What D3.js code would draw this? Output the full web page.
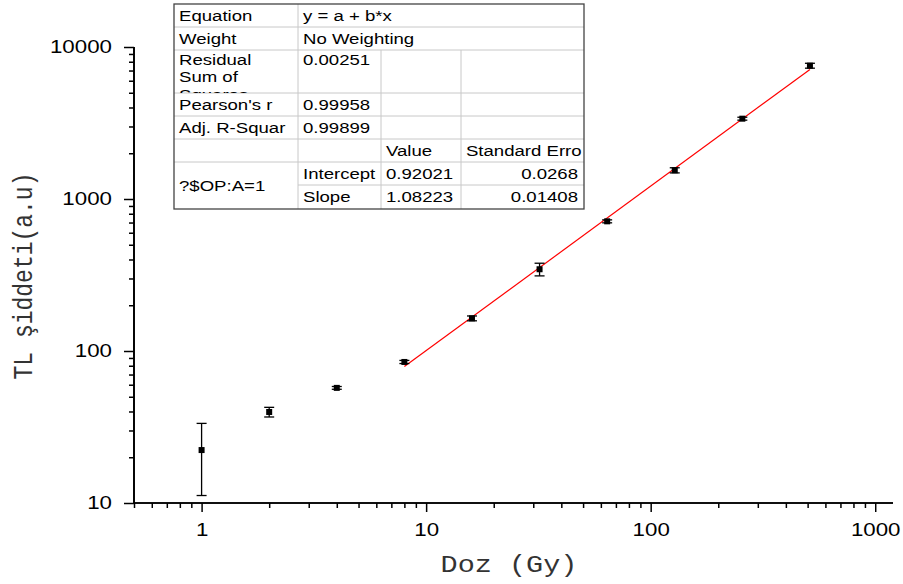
<!DOCTYPE html>
<html>
<head>
<meta charset="utf-8">
<script src="https://cdn.jsdelivr.net/npm/d3@7"></script>
<style>
  body { margin: 0; background: #fff; }
  svg { display: block; }
</style>
</head>
<body>
<div id="chart"></div>
<script>
// measured dose / TL intensity with error bars
const doses = [1, 2, 4, 8, 16, 32, 64, 128, 256, 512];
const tlValues = [22.3, 39.7, 57.2, 84.7, 164, 345, 713, 1545, 3376, 7535];
const tlErrors = [11.1, 2.9, 1.2, 2, 6, 33, 16, 60, 75, 280];

// linear fit on log-log data (from table)
const fitIntercept = 0.92021;
const fitSlope = 1.08223;
const fitRange = [8, 512];

const xMajor = [1, 10, 100, 1000];
const yMajor = [10, 100, 1000, 10000];

const tableRows = [
    ["Equation", "y = a + b*x"],
    ["Weight", "No Weighting"],
    ["Residual Sum of Squares", "0.00251", "", ""],
    ["Pearson's r", "0.99958", "", ""],
    ["Adj. R-Squar", "0.99899", "", ""],
    ["", "", "Value", "Standard Erro"],
    ["?$OP:A=1", "Intercept", "0.92021", "0.0268"],
    ["", "Slope", "1.08223", "0.01408"]
];

const W = 903, H = 584;
const SX = 1.24; // the original picture is stretched sideways
const sansFont = "'Liberation Sans', Arial, sans-serif";
const monoFont = "'Liberation Mono', 'Courier New', monospace";

const svg = d3.select("#chart").append("svg")
    .attr("width", W).attr("height", H);

// plot area
const pLeft = 134, pRight = 893, pTop = 47, pBottom = 503;

const x = d3.scaleLog().domain([0.5, 1200]).range([pLeft, pRight]);
const y = d3.scaleLog().domain([10, 10000]).range([pBottom, pTop]);

function minorTicks(lo, hi) {
    const out = [];
    for (let p = Math.floor(Math.log10(lo)); p <= Math.ceil(Math.log10(hi)); p++) {
        for (let m = 2; m <= 9; m++) {
            const v = m * Math.pow(10, p);
            if (v >= lo && v <= hi) out.push(v);
        }
    }
    return out;
}
const xMinor = minorTicks(0.5, 1200);
const yMinor = minorTicks(10, 10000);

// x axis
const gx = svg.append("g").attr("transform", `translate(0,${pBottom})`);
gx.call(d3.axisBottom(x).tickValues(xMinor).tickSize(5).tickFormat(""));
gx.append("g").call(d3.axisBottom(x).tickValues(xMajor).tickSize(9).tickPadding(11)
    .tickFormat(d3.format("d")));

// y axis
const gy = svg.append("g").attr("transform", `translate(${pLeft},0)`);
gy.call(d3.axisLeft(y).tickValues(yMinor).tickSize(5).tickFormat(""));
gy.append("g").call(d3.axisLeft(y).tickValues(yMajor).tickSize(10).tickPadding(12)
    .tickFormat(d3.format("d")));

svg.selectAll(".domain").attr("stroke", "#000").attr("stroke-width", 1.7);
gx.selectAll(".domain").attr("d", `M${pLeft},0H${pRight}`);
gy.selectAll(".domain").attr("d", `M0,${pBottom}V${pTop}`);
svg.selectAll(".tick line").attr("stroke", "#000").attr("stroke-width", 1.5);
svg.selectAll(".tick text")
    .attr("fill", "#000")
    .style("font-family", sansFont)
    .style("font-size", "18px")
    .each(function () {
        const t = d3.select(this);
        t.attr("x", (+t.attr("x") || 0) / SX).attr("transform", `scale(${SX},1)`);
    });

// axis titles
svg.append("text")
    .attr("transform", `translate(509,572) scale(${SX},1)`)
    .attr("text-anchor", "middle")
    .attr("fill", "#333")
    .style("font-family", monoFont)
    .style("font-size", "23px")
    .text("Doz (Gy)");

svg.append("text")
    .attr("transform", `translate(32,276) scale(${SX},1) rotate(-90)`)
    .attr("text-anchor", "middle")
    .attr("fill", "#333")
    .style("font-family", monoFont)
    .style("font-size", "23px")
    .text("TL şiddeti(a.u)");

// fit line
const fitLine = d3.line().x(d => x(d[0])).y(d => y(d[1]));
svg.append("path")
    .datum(fitRange.map(v => [v, Math.pow(10, fitIntercept + fitSlope * Math.log10(v))]))
    .attr("d", fitLine)
    .attr("fill", "none")
    .attr("stroke", "#ff0000")
    .attr("stroke-width", 1.2);

// error bars and points
const pts = doses.map((d, i) => ({ x: d, y: tlValues[i], e: tlErrors[i] }));
const eb = svg.append("g").attr("stroke", "#000").attr("stroke-width", 1.3);
pts.forEach(p => {
    const cx = x(p.x), y1 = y(p.y + p.e), y2 = y(p.y - p.e);
    eb.append("line").attr("x1", cx).attr("x2", cx).attr("y1", y1).attr("y2", y2);
    eb.append("line").attr("x1", cx - 5).attr("x2", cx + 5).attr("y1", y1).attr("y2", y1);
    eb.append("line").attr("x1", cx - 5).attr("x2", cx + 5).attr("y1", y2).attr("y2", y2);
});
svg.append("g").selectAll("rect").data(pts).join("rect")
    .attr("x", d => x(d.x) - 3).attr("y", d => y(d.y) - 3)
    .attr("width", 6).attr("height", 6)
    .attr("fill", "#000");

// stats table
const tX = [174, 298, 381, 461, 584];
const tY = [4, 27, 50, 93, 116, 139, 162, 185, 209];
const tbl = svg.append("g")
    .style("font-family", sansFont)
    .style("font-size", "15px");
tbl.append("rect").attr("x", tX[0]).attr("y", tY[0])
    .attr("width", tX[4] - tX[0]).attr("height", tY[8] - tY[0]).attr("fill", "#fff");

const grid = tbl.append("g").attr("stroke", "#c8c8c8").attr("stroke-width", 1);
// horizontal lines
for (let r = 1; r < 8; r++) {
    const x0 = (r === 7) ? tX[1] : tX[0];
    grid.append("line").attr("x1", x0).attr("x2", tX[4]).attr("y1", tY[r]).attr("y2", tY[r]);
}
// vertical lines
grid.append("line").attr("x1", tX[1]).attr("x2", tX[1]).attr("y1", tY[0]).attr("y2", tY[8]);
[2, 3].forEach(c => grid.append("line").attr("x1", tX[c]).attr("x2", tX[c])
    .attr("y1", tY[2]).attr("y2", tY[8]));
// outer border
tbl.append("rect").attr("x", tX[0]).attr("y", tY[0])
    .attr("width", tX[4] - tX[0]).attr("height", tY[8] - tY[0])
    .attr("fill", "none").attr("stroke", "#444").attr("stroke-width", 1.3);

const defs = svg.append("defs");
function cellText(g, tx, ty, anchor, txt) {
    g.append("text")
        .attr("x", tx / SX).attr("y", ty)
        .attr("transform", `scale(${SX},1)`)
        .attr("text-anchor", anchor)
        .attr("fill", "#000")
        .text(txt);
}
tableRows.forEach((row, r) => {
    row.forEach((txt, c) => {
        if (!txt) return;
        let x0 = tX[c], x1 = (row.length === 2 && c === 1) ? tX[4] : tX[c + 1];
        let y0 = tY[r], y1 = tY[r + 1];
        if (r === 6 && c === 0) y1 = tY[8];
        const id = `clip${r}_${c}`;
        defs.append("clipPath").attr("id", id).append("rect")
            .attr("x", x0).attr("y", y0).attr("width", x1 - x0).attr("height", y1 - y0);
        const g = tbl.append("g").attr("clip-path", `url(#${id})`);
        const rightAlign = (c === 3 && r >= 6);
        if (r === 2 && c === 0) {
            ["Residual", "Sum of", "Squares"].forEach((w, k) => {
                cellText(g, x0 + 5, y0 + 15 + k * 17.5, "start", w);
            });
            return;
        }
        const ty = (r === 2) ? y0 + 15 : (y0 + y1) / 2 + 5.3;
        cellText(g, rightAlign ? x1 - 6 : x0 + 5, ty, rightAlign ? "end" : "start", txt);
    });
});
</script>
</body>
</html>
